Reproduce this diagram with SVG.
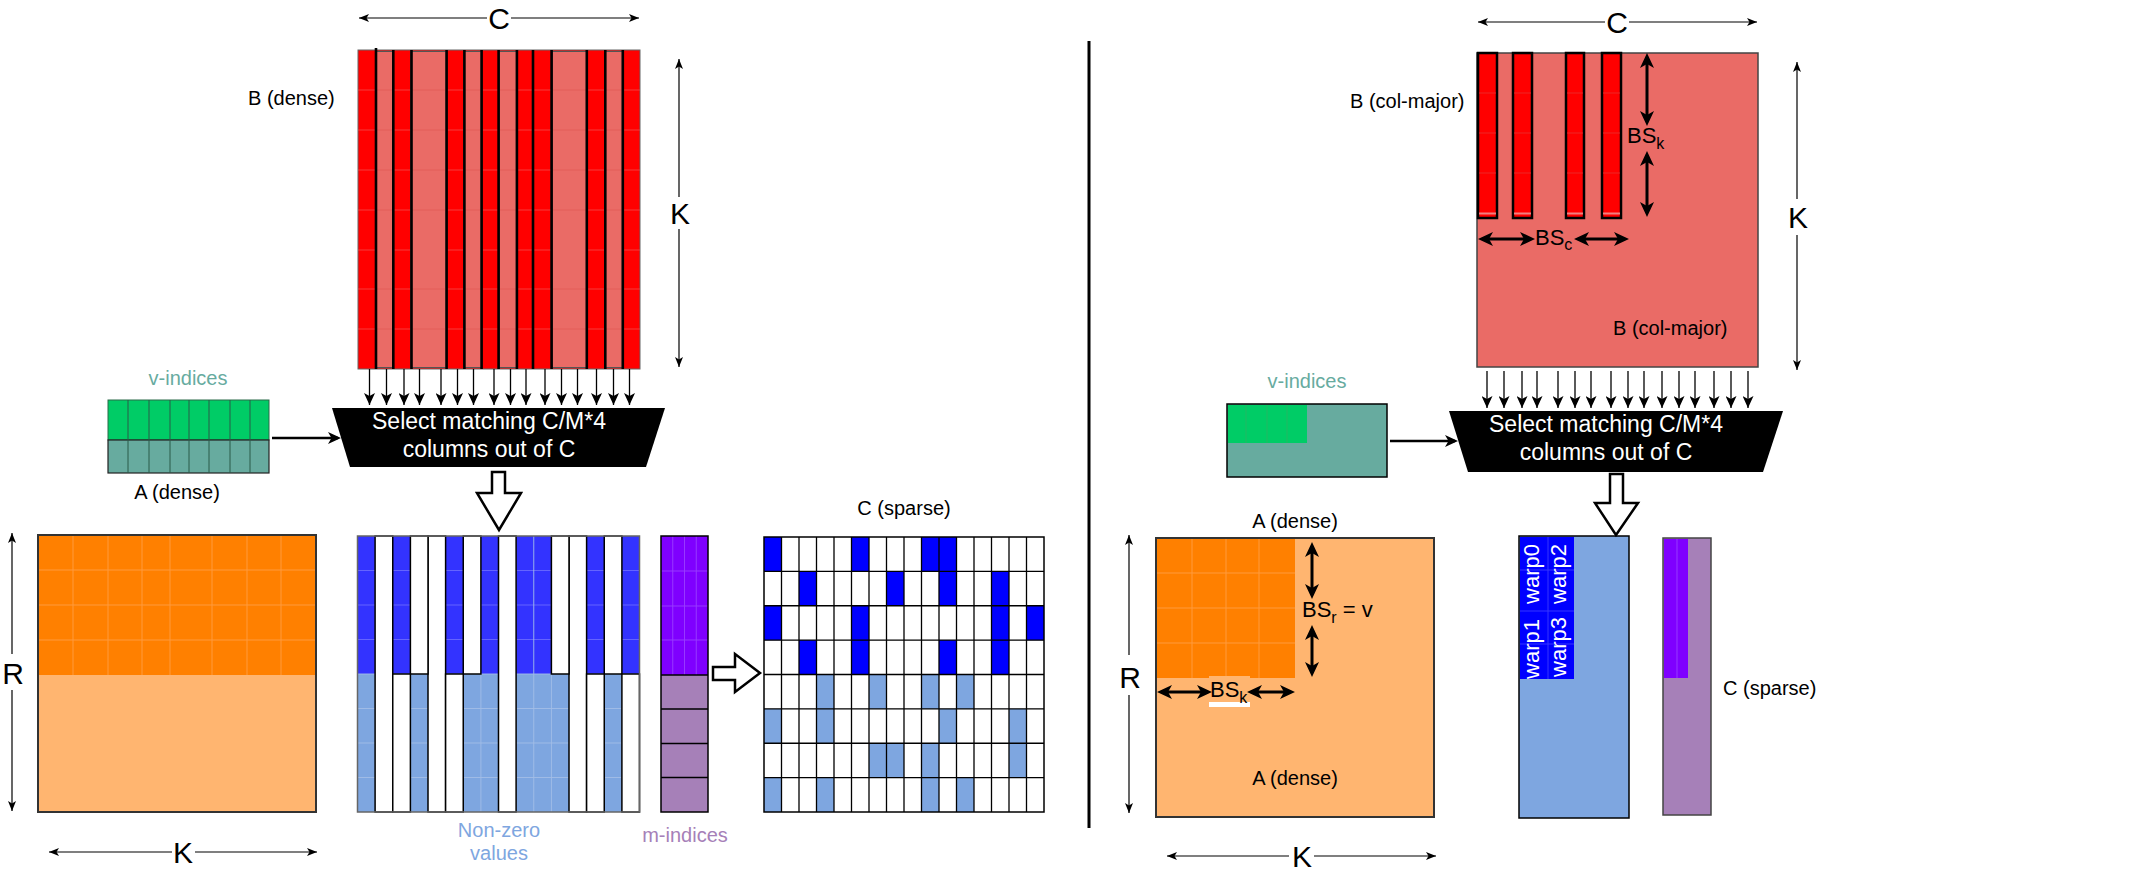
<svg xmlns="http://www.w3.org/2000/svg" width="2151" height="873" viewBox="0 0 2151 873">
<style>
text{font-family:"Liberation Sans",Arial,Helvetica,sans-serif;fill:#000}
.lbl{font-size:20px}
.big{font-size:30px}
.mid{text-anchor:middle}
.sel{font-size:23px;fill:#fff;text-anchor:middle}
.bs{font-size:22px}
.sub{font-size:16px}
.warp{font-size:22px;fill:#fff;text-anchor:middle}
.dim{stroke:#000;stroke-width:1.2;fill:none}
.sa{stroke:#000;stroke-width:1.3;fill:none;marker-end:url(#mSmall)}
.thick{stroke:#000;stroke-width:3;fill:none;marker-start:url(#mThick);marker-end:url(#mThick)}
.hollow{fill:#fff;stroke:#000;stroke-width:2.5;stroke-linejoin:miter}
.wcell{fill:#fff;stroke:#000;stroke-width:1.5}
.dk{fill:#0000FF}
.lt{fill:#7EA6E0}
</style>
<defs>
<marker id="mDim" markerUnits="userSpaceOnUse" markerWidth="10" markerHeight="8" viewBox="0 0 10 8" refX="10" refY="4" orient="auto-start-reverse"><path d="M0,0 L10,4 L0,8 L2.5,4 z" fill="#000"/></marker>
<marker id="mSmall" markerUnits="userSpaceOnUse" markerWidth="12" markerHeight="11" viewBox="0 0 12 11" refX="12" refY="5.5" orient="auto"><path d="M0,0 L12,5.5 L0,11 L3,5.5 z" fill="#000"/></marker>
<marker id="mThick" markerUnits="userSpaceOnUse" markerWidth="15" markerHeight="14" viewBox="0 0 15 14" refX="11" refY="7" orient="auto-start-reverse"><path d="M0,0 L15,7 L0,14 L4,7 z" fill="#000"/></marker>
<marker id="mMed" markerUnits="userSpaceOnUse" markerWidth="13" markerHeight="12" viewBox="0 0 13 12" refX="10" refY="6" orient="auto"><path d="M0,0 L13,6 L0,12 L3.5,6 z" fill="#000"/></marker>
</defs>
<rect x="0" y="0" width="2151" height="873" fill="#fff"/>

<!-- ================= LEFT ================= -->
<g id="B-dense">
  <rect x="358" y="50" width="282" height="319" fill="#FF0000" stroke="#666" stroke-width="1"/>
  <path d="M358,90H640M358,130H640M358,170H640M358,210H640M358,250H640M358,289H640M358,329H640" stroke="#f24a4a" stroke-width="0.8"/>
  <g fill="#EA6B66" stroke="#555" stroke-width="1">
    <rect x="375.6" y="51.5" width="17.7" height="316"/>
    <rect x="410.9" y="51.5" width="35.2" height="316"/>
    <rect x="463.8" y="51.5" width="17.6" height="316"/>
    <rect x="499" y="51.5" width="17.6" height="316"/>
    <rect x="551.9" y="51.5" width="35.2" height="316"/>
    <rect x="604.8" y="51.5" width="17.6" height="316"/>
  </g>
  <path d="M375.6,90h17.6M375.6,130h17.6M375.6,170h17.6M375.6,210h17.6M375.6,289h17.6M375.6,329h17.6M410.9,90h35.2M410.9,130h35.2M410.9,170h35.2M410.9,210h35.2M410.9,289h35.2M410.9,329h35.2M463.8,90h17.6M463.8,130h17.6M463.8,170h17.6M463.8,210h17.6M463.8,289h17.6M463.8,329h17.6M499,90h17.6M499,130h17.6M499,170h17.6M499,210h17.6M499,289h17.6M499,329h17.6M551.9,90h35.2M551.9,130h35.2M551.9,170h35.2M551.9,210h35.2M551.9,289h35.2M551.9,329h35.2M604.8,90h17.6M604.8,130h17.6M604.8,170h17.6M604.8,210h17.6M604.8,289h17.6M604.8,329h17.6" stroke="#e25a55" stroke-width="0.8"/>
  <path d="M376,48V369M393.3,50V369M411.5,50V369M446.6,50V369M464.4,50V369M481.6,50V369M498.6,50V369M516.9,50V369M533,50V369M551.6,50V369M586.8,50V369M605.3,50V369M622.8,50V369" stroke="#000" stroke-width="2.6"/>
  <text class="lbl" x="248" y="105">B (dense)</text>
</g>

<g id="v-indices-left">
  <rect x="108" y="400" width="161" height="40" fill="#00CC66" stroke="#2a6a48" stroke-width="1"/>
  <rect x="108" y="440" width="161" height="33" fill="#67AB9F" stroke="#222" stroke-width="1.2"/>
  <path d="M128,400V473M149,400V473M170,400V473M189,400V473M209,400V473M230,400V473M250,400V473" stroke="#2a5a48" stroke-width="1"/>
  <text class="lbl mid" x="188" y="385" style="fill:#67AB9F">v-indices</text>
  <text class="lbl mid" x="177" y="499">A (dense)</text>
</g>

<g id="select-left">
  <polygon points="332,408 665,408 646,467 350,467" fill="#000"/>
  <text class="sel" x="489" y="429">Select matching C/M*4</text>
  <text class="sel" x="489" y="457">columns out of C</text>
</g>

<g id="A-dense-left">
  <rect x="38" y="535" width="278" height="277" fill="#FFB570" stroke="#333" stroke-width="2"/>
  <rect x="39" y="536" width="276" height="139" fill="#FF8000"/>
  <path d="M73,536V675M108,536V675M142,536V675M170,536V675M212,536V675M247,536V675M281,536V675M39,570H315M39,605H315M39,640H315" stroke="#ff9a3c" stroke-width="1"/>
</g>

<g id="nonzero-values">
  <rect x="357.5" y="536" width="282" height="276" fill="#fff"/>
  <g fill="#3333FF">
    <rect x="357.5" y="536" width="17.6" height="138"/>
    <rect x="392.75" y="536" width="17.6" height="138"/>
    <rect x="445.6" y="536" width="17.6" height="138"/>
    <rect x="480.9" y="536" width="17.6" height="138"/>
    <rect x="516.1" y="536" width="35.3" height="138"/>
    <rect x="586.6" y="536" width="17.6" height="138"/>
    <rect x="621.9" y="536" width="17.6" height="138"/>
  </g>
  <g fill="#7EA6E0">
    <rect x="357.5" y="674" width="17.6" height="138"/>
    <rect x="410.4" y="674" width="17.6" height="138"/>
    <rect x="463.25" y="674" width="35.25" height="138"/>
    <rect x="516.1" y="674" width="52.9" height="138"/>
    <rect x="604.25" y="674" width="17.6" height="138"/>
  </g>
  <path d="M357.5,570.5H639.5M357.5,605H639.5M357.5,639.5H639.5" stroke="#6a6aff" stroke-width="0.9"/>
  <path d="M357.5,674H639.5M357.5,708.5H639.5M357.5,743H639.5M357.5,777.5H639.5M480.9,674V812M533.75,536V812M551.4,674V812" stroke="#a3bde6" stroke-width="0.9"/>
  <rect class="wcell" x="375.1" y="536" width="17.65" height="276"/>
  <rect class="wcell" x="428" y="536" width="17.6" height="276"/>
  <rect class="wcell" x="498.5" y="536" width="17.6" height="276"/>
  <rect class="wcell" x="569" y="536" width="17.6" height="276"/>
  <rect class="wcell" x="410.4" y="536" width="17.6" height="138"/>
  <rect class="wcell" x="463.25" y="536" width="17.65" height="138"/>
  <rect class="wcell" x="551.4" y="536" width="17.6" height="138"/>
  <rect class="wcell" x="604.25" y="536" width="17.65" height="138"/>
  <rect class="wcell" x="392.75" y="674" width="17.65" height="138"/>
  <rect class="wcell" x="445.6" y="674" width="17.65" height="138"/>
  <rect class="wcell" x="586.6" y="674" width="17.65" height="138"/>
  <rect class="wcell" x="621.9" y="674" width="17.6" height="138"/>
  <rect x="357.5" y="536" width="282" height="276" fill="none" stroke="#666" stroke-width="1.5"/>
  <text class="lbl mid" x="499" y="837" style="fill:#7EA6E0">Non-zero</text>
  <text class="lbl mid" x="499" y="860" style="fill:#7EA6E0">values</text>
</g>

<g id="m-indices">
  <rect x="661" y="536" width="47" height="139" fill="#7F00FF"/>
  <path d="M672.75,536V675M684.5,536V675M696.25,536V675M661,571H708M661,606H708M661,640H708" stroke="#9a40ff" stroke-width="0.9"/>
  <rect x="661" y="675" width="47" height="137" fill="#A680B8"/>
  <path d="M661,675H708M661,709H708M661,743.5H708M661,777.5H708" stroke="#000" stroke-width="1.5"/>
  <rect x="661" y="536" width="47" height="276" fill="none" stroke="#000" stroke-width="1.5"/>
  <text class="lbl mid" x="685" y="842" style="fill:#A680B8">m-indices</text>
</g>

<g id="C-sparse-left">
  <rect x="764" y="537" width="280" height="275" fill="#fff"/>
  <g class="dk">
    <rect x="764" y="537" width="17.5" height="34.4"/>
    <rect x="851.5" y="537" width="17.5" height="34.4"/>
    <rect x="921.5" y="537" width="35" height="34.4"/>
    <rect x="799" y="571.4" width="17.5" height="34.4"/>
    <rect x="886.5" y="571.4" width="17.5" height="34.4"/>
    <rect x="939" y="571.4" width="17.5" height="34.4"/>
    <rect x="991.5" y="571.4" width="17.5" height="34.4"/>
    <rect x="764" y="605.75" width="17.5" height="34.4"/>
    <rect x="851.5" y="605.75" width="17.5" height="68.8"/>
    <rect x="991.5" y="605.75" width="17.5" height="68.8"/>
    <rect x="1026.5" y="605.75" width="17.5" height="34.4"/>
    <rect x="799" y="640.1" width="17.5" height="34.4"/>
    <rect x="939" y="640.1" width="17.5" height="34.4"/>
  </g>
  <g class="lt">
    <rect x="816.5" y="674.5" width="17.5" height="68.8"/>
    <rect x="869" y="674.5" width="17.5" height="34.4"/>
    <rect x="921.5" y="674.5" width="17.5" height="34.4"/>
    <rect x="956.5" y="674.5" width="17.5" height="34.4"/>
    <rect x="764" y="708.9" width="17.5" height="34.4"/>
    <rect x="939" y="708.9" width="17.5" height="34.4"/>
    <rect x="1009" y="708.9" width="17.5" height="68.7"/>
    <rect x="869" y="743.25" width="35" height="34.4"/>
    <rect x="921.5" y="743.25" width="17.5" height="68.75"/>
    <rect x="764" y="777.6" width="17.5" height="34.4"/>
    <rect x="816.5" y="777.6" width="17.5" height="34.4"/>
    <rect x="956.5" y="777.6" width="17.5" height="34.4"/>
  </g>
  <path d="M781.5,537V812M799,537V812M816.5,537V812M834,537V812M851.5,537V812M869,537V812M886.5,537V812M904,537V812M921.5,537V812M939,537V812M956.5,537V812M974,537V812M991.5,537V812M1009,537V812M1026.5,537V812M764,571.4H1044M764,605.75H1044M764,640.1H1044M764,674.5H1044M764,708.9H1044M764,743.25H1044M764,777.6H1044" stroke="#000" stroke-width="1.3"/>
  <rect x="764" y="537" width="280" height="275" fill="none" stroke="#000" stroke-width="1.5"/>
  <text class="lbl mid" x="904" y="515">C (sparse)</text>
</g>

<g id="divider">
  <line x1="1089" y1="41" x2="1089" y2="828" stroke="#000" stroke-width="3"/>
</g>

<!-- ================= RIGHT ================= -->
<g id="B-colmajor">
  <rect x="1477" y="53" width="281" height="314" fill="#EA6B66" stroke="#444" stroke-width="1.5"/>
  <g fill="#FF0000" stroke="#000" stroke-width="2.5">
    <rect x="1478" y="53" width="19" height="165"/>
    <rect x="1513" y="53" width="19" height="165"/>
    <rect x="1566" y="53" width="18" height="165"/>
    <rect x="1602" y="53" width="19" height="165"/>
  </g>
  <path d="M1479,93h17M1479,133h17M1479,173h17M1514,93h17M1514,133h17M1514,173h17M1567,93h16M1567,133h16M1567,173h16M1603,93h17M1603,133h17M1603,173h17" stroke="#e83030" stroke-width="0.8"/>
  <path d="M1479,213.5h17M1514,213.5h17M1567,213.5h16M1603,213.5h17" stroke="#f08080" stroke-width="2"/>
  <text class="lbl" x="1350" y="108">B (col-major)</text>
  <text class="lbl" x="1613" y="335">B (col-major)</text>
  <rect x="1625" y="123" width="45" height="31" fill="#EA6B66"/>
  <text class="bs" x="1627" y="143">BS<tspan class="sub" dy="6">k</tspan></text>
  <rect x="1532" y="226" width="45" height="30" fill="#EA6B66"/>
  <text class="bs" x="1535" y="245">BS<tspan class="sub" dy="5">c</tspan></text>
</g>

<g id="v-indices-right">
  <rect x="1227" y="404" width="160" height="73" fill="#67AB9F" stroke="#000" stroke-width="1.5"/>
  <rect x="1228" y="405" width="79" height="38" fill="#00CC66"/>
  <path d="M1246,405V443M1267,405V443M1287,405V443" stroke="#22b862" stroke-width="1"/>
  <text class="lbl mid" x="1307" y="388" style="fill:#67AB9F">v-indices</text>
</g>

<g id="select-right">
  <polygon points="1449,411 1783,411 1763,472 1468,472" fill="#000"/>
  <text class="sel" x="1606" y="432">Select matching C/M*4</text>
  <text class="sel" x="1606" y="460">columns out of C</text>
</g>

<g id="A-dense-right">
  <rect x="1156" y="538" width="278" height="279" fill="#FFB570" stroke="#333" stroke-width="2"/>
  <rect x="1157" y="539" width="138" height="139" fill="#FF8000"/>
  <path d="M1192,539V678M1226,539V678M1259,539V678M1157,573H1295M1157,608H1295M1157,643H1295" stroke="#ff9a3c" stroke-width="1"/>
  <text class="lbl mid" x="1295" y="528">A (dense)</text>
  <text class="lbl mid" x="1295" y="785">A (dense)</text>
  <rect x="1300" y="596" width="80" height="32" fill="#FFB570"/>
  <text class="bs" x="1302" y="617">BS<tspan class="sub" dy="6">r</tspan><tspan dy="-6"> = v</tspan></text>
  <rect x="1209" y="676" width="41" height="26" fill="#FFB570"/>
  <rect x="1209" y="702" width="41" height="5" fill="#fff"/>
  <text class="bs" x="1210" y="697">BS<tspan class="sub" dy="6">k</tspan></text>
</g>

<g id="warp-block">
  <rect x="1519" y="536" width="110" height="282" fill="#7EA6E0" stroke="#000" stroke-width="1.5"/>
  <rect x="1520" y="537" width="54" height="142" fill="#0000FF"/>
  <path d="M1548,537V679M1520,570H1574M1520,611H1574M1520,644H1574" stroke="#3a3aff" stroke-width="0.9"/>
  <text class="warp" transform="translate(1539,574) rotate(-90)">warp0</text>
  <text class="warp" transform="translate(1539,649) rotate(-90)">warp1</text>
  <text class="warp" transform="translate(1566,574) rotate(-90)">warp2</text>
  <text class="warp" transform="translate(1566,647) rotate(-90)">warp3</text>
</g>

<g id="C-sparse-right">
  <rect x="1663" y="538" width="48" height="277" fill="#A680B8" stroke="#444" stroke-width="1.5"/>
  <rect x="1664" y="539" width="24" height="139" fill="#7F00FF"/>
  <line x1="1677" y1="539" x2="1677" y2="678" stroke="#9a40ff" stroke-width="0.9"/>
  <text class="lbl" x="1723" y="695">C (sparse)</text>
</g>

<!-- ================= CONNECTORS ================= -->
<g id="connectors">
  <line class="dim" x1="487" y1="18" x2="359" y2="18" marker-end="url(#mDim)"/>
  <line class="dim" x1="511" y1="18" x2="639" y2="18" marker-end="url(#mDim)"/>
  <text class="big mid" x="499" y="29">C</text>
  <line class="dim" x1="679" y1="197" x2="679" y2="59" marker-end="url(#mDim)"/>
  <line class="dim" x1="679" y1="229" x2="679" y2="367" marker-end="url(#mDim)"/>
  <text class="big mid" x="680" y="224">K</text>
  <line class="dim" x1="12" y1="654" x2="12" y2="533" marker-end="url(#mDim)"/>
  <line class="dim" x1="12" y1="690" x2="12" y2="811" marker-end="url(#mDim)"/>
  <text class="big mid" x="13" y="684">R</text>
  <line class="dim" x1="172" y1="852" x2="49" y2="852" marker-end="url(#mDim)"/>
  <line class="dim" x1="195" y1="852" x2="317" y2="852" marker-end="url(#mDim)"/>
  <text class="big mid" x="183" y="863">K</text>

  <line class="dim" x1="1605" y1="22" x2="1478" y2="22" marker-end="url(#mDim)"/>
  <line class="dim" x1="1629" y1="22" x2="1757" y2="22" marker-end="url(#mDim)"/>
  <text class="big mid" x="1617" y="33">C</text>
  <line class="dim" x1="1797" y1="199" x2="1797" y2="62" marker-end="url(#mDim)"/>
  <line class="dim" x1="1797" y1="235" x2="1797" y2="370" marker-end="url(#mDim)"/>
  <text class="big mid" x="1798" y="228">K</text>
  <line class="dim" x1="1129" y1="655" x2="1129" y2="535" marker-end="url(#mDim)"/>
  <line class="dim" x1="1129" y1="695" x2="1129" y2="813" marker-end="url(#mDim)"/>
  <text class="big mid" x="1130" y="688">R</text>
  <line class="dim" x1="1289" y1="856" x2="1167" y2="856" marker-end="url(#mDim)"/>
  <line class="dim" x1="1314" y1="856" x2="1436" y2="856" marker-end="url(#mDim)"/>
  <text class="big mid" x="1302" y="867">K</text>

  <path class="sa" d="M369.5,369V405"/><path class="sa" d="M386.5,369V405"/><path class="sa" d="M404,369V405"/><path class="sa" d="M419.5,369V405"/>
  <path class="sa" d="M441,369V405"/><path class="sa" d="M457.5,369V405"/><path class="sa" d="M473.5,369V405"/><path class="sa" d="M494,369V405"/>
  <path class="sa" d="M510.5,369V405"/><path class="sa" d="M526,369V405"/><path class="sa" d="M545,369V405"/><path class="sa" d="M561.5,369V405"/>
  <path class="sa" d="M577.5,369V405"/><path class="sa" d="M596.5,369V405"/><path class="sa" d="M613.5,369V405"/><path class="sa" d="M629.5,369V405"/>

  <path class="sa" d="M1487,371V408"/><path class="sa" d="M1504,371V408"/><path class="sa" d="M1522,371V408"/><path class="sa" d="M1537,371V408"/>
  <path class="sa" d="M1558,371V408"/><path class="sa" d="M1575,371V408"/><path class="sa" d="M1591,371V408"/><path class="sa" d="M1611,371V408"/>
  <path class="sa" d="M1628,371V408"/><path class="sa" d="M1644,371V408"/><path class="sa" d="M1662,371V408"/><path class="sa" d="M1679,371V408"/>
  <path class="sa" d="M1695,371V408"/><path class="sa" d="M1714,371V408"/><path class="sa" d="M1731,371V408"/><path class="sa" d="M1748,371V408"/>

  <line x1="272" y1="438" x2="338" y2="438" stroke="#000" stroke-width="2.5" marker-end="url(#mMed)"/>
  <line x1="1390" y1="441" x2="1455" y2="441" stroke="#000" stroke-width="2.5" marker-end="url(#mMed)"/>

  <polygon class="hollow" points="492,472 505,472 505,493 521,493 499,530 477,493 492,493"/>
  <polygon class="hollow" points="1610,474 1623,474 1623,503 1638,503 1616,535 1595,503 1610,503"/>
  <polygon class="hollow" points="713,667 735,667 735,654 760,673 735,692 735,680 713,680"/>

  <line class="thick" x1="1647" y1="57" x2="1647" y2="122" marker-end="none"/>
  <line class="thick" x1="1647" y1="155" x2="1647" y2="213" marker-start="none"/>
  <line class="thick" x1="1482" y1="239" x2="1531" y2="239" marker-end="none"/>
  <line class="thick" x1="1578" y1="239" x2="1625" y2="239" marker-start="none"/>
  <line class="thick" x1="1312" y1="546" x2="1312" y2="595" marker-end="none"/>
  <line class="thick" x1="1312" y1="629" x2="1312" y2="673" marker-start="none"/>
  <line class="thick" x1="1161" y1="692" x2="1208" y2="692" marker-end="none"/>
  <line class="thick" x1="1251" y1="692" x2="1291" y2="692" marker-start="none"/>
</g>
</svg>
